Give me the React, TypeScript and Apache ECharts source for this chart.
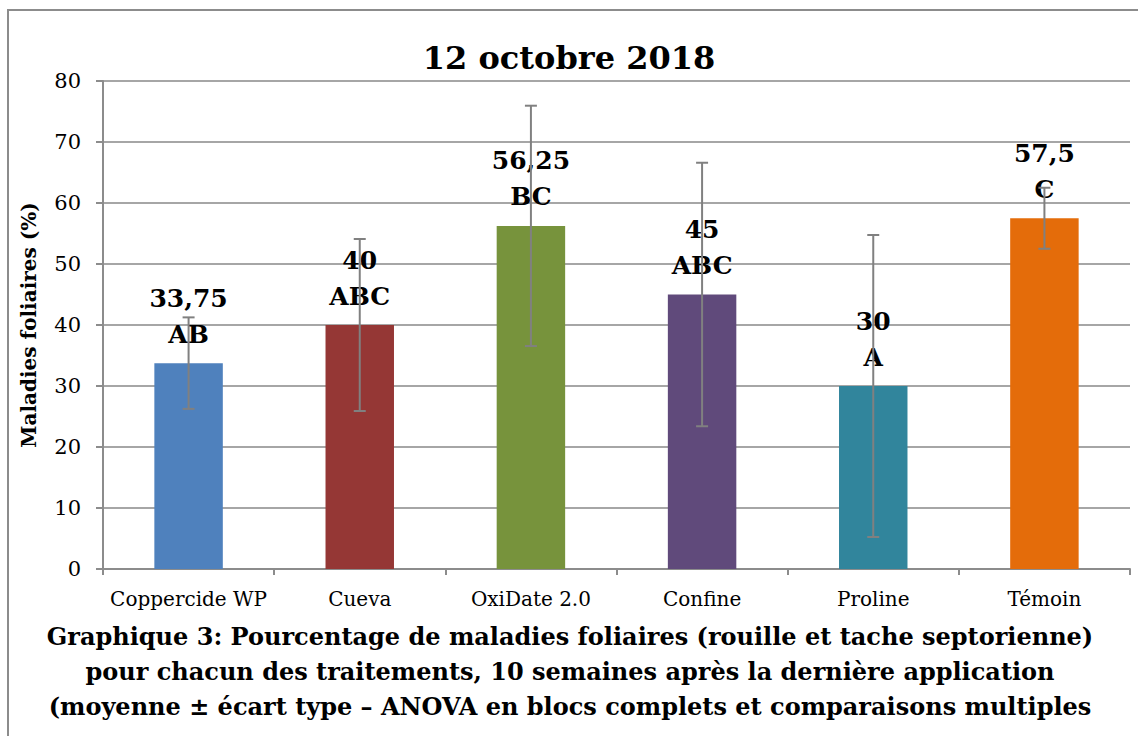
import React, { useEffect, useRef } from "react";
import * as echarts from "echarts";

const categories = ["Coppercide WP", "Cueva", "OxiDate 2.0", "Confine", "Proline", "Témoin"];
const means = [33.75, 40, 56.25, 45, 30, 57.5];
const meanLabels = ["33,75", "40", "56,25", "45", "30", "57,5"];
const groups = ["AB", "ABC", "BC", "ABC", "A", "C"];
const stdDevs = [7.5, 14.1, 19.7, 21.6, 24.75, 5];
const barColors = ["#4f81bd", "#953735", "#77933c", "#604a7b", "#31859c", "#e46c0a"];
const yTicks = { min: 0, max: 80, interval: 10 };
const titleText = "12 octobre 2018";
const yAxisName = "Maladies foliaires (%)";
const captionLines = [
  "Graphique 3: Pourcentage de maladies foliaires (rouille et tache septorienne)",
  "pour chacun des traitements, 10 semaines après la dernière application",
  "(moyenne ± écart type – ANOVA en blocs complets et comparaisons multiples",
];

const FONT = "DejaVu Serif";

export default function App() {
  const ref = useRef<HTMLDivElement>(null);
  useEffect(() => {
    document.body.style.margin = "0";
    const chart = echarts.init(ref.current!, null, { renderer: "svg" });
    const errData = means.map((m, i) => [i, m - stdDevs[i], m + stdDevs[i]]);
    chart.setOption({
      animation: false,
      backgroundColor: "#ffffff",
      textStyle: { fontFamily: FONT },
      title: {
        text: titleText,
        left: "center",
        top: 37,
        textStyle: { fontFamily: FONT, fontSize: 32, fontWeight: "bold", color: "#000" },
      },
      grid: { left: 103, right: 8, top: 81, bottom: 167 },
      xAxis: {
        type: "category",
        data: categories,
        axisLine: { lineStyle: { color: "#8c8c8c", width: 2 } },
        axisTick: { show: true, length: 6, lineStyle: { color: "#8c8c8c", width: 2 } },
        axisLabel: { fontFamily: FONT, fontSize: 20, color: "#000", margin: 20, interval: 0 },
      },
      yAxis: {
        type: "value",
        min: yTicks.min,
        max: yTicks.max,
        interval: yTicks.interval,
        name: yAxisName,
        nameLocation: "middle",
        nameGap: 64,
        nameRotate: 90,
        nameTextStyle: { fontFamily: FONT, fontSize: 20, fontWeight: "bold", color: "#000" },
        axisLine: { show: true, lineStyle: { color: "#8c8c8c", width: 2 } },
        axisTick: { show: true, length: 7, lineStyle: { color: "#8c8c8c", width: 2 } },
        splitLine: { lineStyle: { color: "#a6a6a6", width: 2 } },
        axisLabel: { fontFamily: FONT, fontSize: 21, color: "#000", margin: 22 },
      },
      series: [
        {
          type: "bar",
          data: means.map((v, i) => ({ value: v, itemStyle: { color: barColors[i] } })),
          barWidth: "40%",
          label: {
            show: true,
            position: "top",
            distance: 11,
            fontFamily: FONT,
            fontSize: 25,
            fontWeight: "bold",
            color: "#000",
            lineHeight: 36,
            formatter: (p: any) => meanLabels[p.dataIndex] + "\n" + groups[p.dataIndex],
          },
          z: 2,
        },
        {
          type: "custom",
          data: errData,
          z: 5,
          renderItem: (params: any, api: any) => {
            const x = api.value(0);
            const lo = api.coord([x, api.value(1)]);
            const hi = api.coord([x, api.value(2)]);
            const cap = 6;
            const style = { stroke: "#808080", lineWidth: 2 };
            return {
              type: "group",
              children: [
                { type: "line", shape: { x1: hi[0], y1: hi[1], x2: lo[0], y2: lo[1] }, style },
                { type: "line", shape: { x1: hi[0] - cap, y1: hi[1], x2: hi[0] + cap, y2: hi[1] }, style },
                { type: "line", shape: { x1: lo[0] - cap, y1: lo[1], x2: lo[0] + cap, y2: lo[1] }, style },
              ],
            };
          },
        },
      ],
      graphic: [
        {
          type: "rect",
          shape: { x: 8, y: 10, width: 1150, height: 760 },
          style: { fill: "none", stroke: "#8c8c8c", lineWidth: 2 },
          silent: true,
        },
        ...captionLines.map((t, i) => ({
          type: "text",
          x: 570,
          y: 636 + i * 35,
          style: {
            text: t,
            fontFamily: FONT,
            fontSize: 24,
            fontWeight: "bold",
            fill: "#000",
            align: "center",
            verticalAlign: "middle",
          },
        })),
      ],
    });
    return () => chart.dispose();
  }, []);
  return <div ref={ref} style={{ width: 1138, height: 736 }} />;
}
